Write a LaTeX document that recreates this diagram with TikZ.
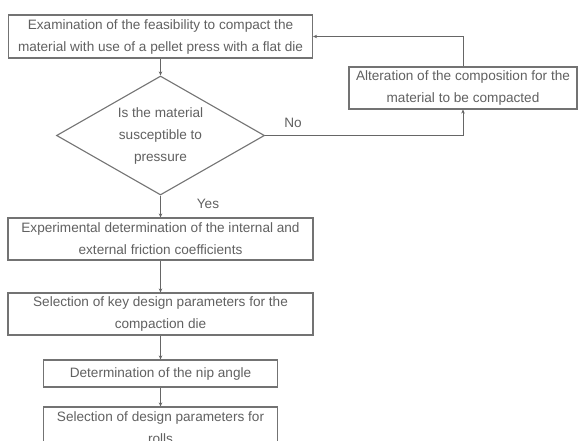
\documentclass[tikz,border=0pt]{standalone}
\usepackage{fontspec}
\setmainfont{Liberation Sans}
\usetikzlibrary{shapes.geometric,arrows.meta}
\begin{document}
\begin{tikzpicture}[x=1pt,y=-1pt,
    every node/.style={font=\fontsize{13.6}{22}\selectfont,text=black!62},
    stage/.style={draw=black!55,line width=1.1pt,align=center,inner sep=0pt},
    query/.style={draw=black!55,line width=1.1pt,shape=diamond,align=center,inner sep=0pt,
      aspect=1.75,minimum width=208pt,minimum height=119pt},
    flow/.style={draw=black!60,line width=1pt,-{Stealth[length=4pt,width=3.5pt]}}]
    \clip (0,0) rectangle (578,441);
    \fill[white] (0,0) rectangle (578,441);
    \node[stage,minimum width=304pt,minimum height=43pt] (exam) at (160.5,36.5) {Examination of the feasibility to compact the\\material with use of a pellet press with a flat die};
    \node[query] (query) at (160.5,135.5) {Is the material\\susceptible to\\pressure};
    \node[stage,minimum width=228pt,minimum height=42pt] (alter) at (463,88) {Alteration of the composition for the\\material to be compacted};
    \node[stage,minimum width=305pt,minimum height=42pt] (exper) at (160.5,239) {Experimental determination of the internal and\\external friction coefficients};
    \node[stage,minimum width=305pt,minimum height=42pt] (keydie) at (160.5,314) {Selection of key design parameters for the\\compaction die};
    \node[stage,minimum width=234pt,minimum height=27pt] (nip) at (160.5,373.5) {Determination of the nip angle};
    \node[stage,minimum width=234pt,minimum height=42pt] (rolls) at (160.5,428) {Selection of design parameters for\\rolls};
    \node (yes) at (208,204) {Yes};
    \node (no) at (293,123) {No};
    \draw[flow] (exam) -- (query);
    \draw[flow] (query) -- (exper);
    \draw[flow] (exper) -- (keydie);
    \draw[flow] (keydie) -- (nip);
    \draw[flow] (nip) -- (rolls);
    \draw[flow] (query.east) -| (alter.south);
    \draw[flow] (alter.north) |- (exam.east);
  \end{tikzpicture}
\end{document}
